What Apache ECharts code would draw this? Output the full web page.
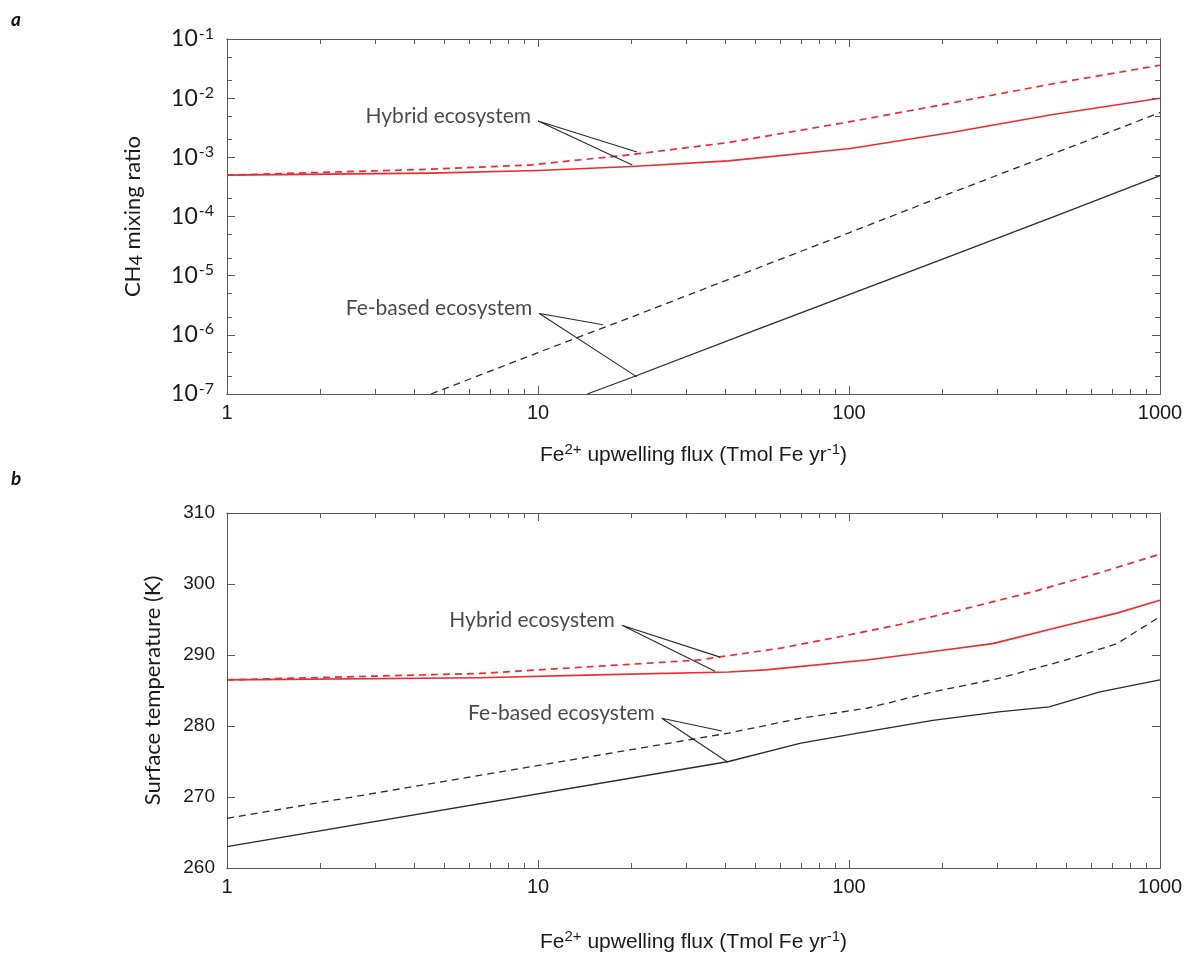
<!DOCTYPE html>
<html>
<head>
<meta charset="utf-8">
<script src="https://cdn.jsdelivr.net/npm/echarts@6/dist/echarts.min.js"></script>
<style>
  html, body { margin: 0; padding: 0; background: #ffffff; }
  #chart { width: 1195px; height: 960px; }
</style>
</head>
<body>
<div id="chart"></div>
<script>
// ---------- Panel a: CH4 mixing ratio vs. Fe2+ upwelling flux ----------
const hybridSolidFluxA = [1, 4.5, 10, 20, 41, 101, 211, 443, 1000];
const hybridSolidCH4   = [5.0e-4, 5.4e-4, 6.0e-4, 7.0e-4, 8.7e-4, 1.41e-3, 2.6e-3, 5.2e-3, 1.0e-2];
const hybridDashFluxA  = [1, 4.5, 9.4, 19.6, 41, 101, 211, 443, 1000];
const hybridDashCH4    = [5.0e-4, 6.3e-4, 7.4e-4, 1.1e-3, 1.78e-3, 4.0e-3, 8.2e-3, 1.72e-2, 3.6e-2];
const feDashFluxA      = [4.53, 10, 20, 50, 100, 200, 500, 1000];
const feDashCH4        = [1.0e-7, 5.0e-7, 2.0e-6, 1.3e-5, 5.3e-5, 2.2e-4, 1.4e-3, 5.7e-3];
const feSolidFluxA     = [14.4, 20, 50, 100, 200, 500, 1000];
const feSolidCH4       = [1.0e-7, 1.9e-7, 1.2e-6, 4.8e-6, 1.9e-5, 1.2e-4, 4.9e-4];

// ---------- Panel b: surface temperature vs. Fe2+ upwelling flux ----------
const hybridSolidFluxB = [1, 6.5, 15.4, 41, 54, 114, 186, 290, 500, 727, 1000];
const hybridSolidTemp  = [286.5, 286.8, 287.2, 287.6, 287.9, 289.3, 290.5, 291.6, 294.2, 295.9, 297.7];
const hybridDashFluxB  = [1, 6.5, 15.4, 33, 61, 94, 146, 251, 390, 641, 1000];
const hybridDashTemp   = [286.5, 287.4, 288.4, 289.3, 291.0, 292.6, 294.3, 296.8, 298.9, 301.6, 304.2];
const feDashFluxB      = [1, 41, 70, 114, 186, 303, 500, 727, 1000];
const feDashTemp       = [267.0, 279.0, 281.1, 282.5, 284.8, 286.7, 289.3, 291.6, 295.4];
const feSolidFluxB     = [1, 41, 70, 114, 186, 303, 440, 641, 1000];
const feSolidTemp      = [263.0, 275.0, 277.6, 279.2, 280.8, 282.0, 282.7, 284.8, 286.5];

// ---------- Ticks ----------
const fluxMajor = [1, 10, 100, 1000];
const fluxMinor = [2, 3, 4, 5, 6, 7, 8, 9, 20, 30, 40, 50, 60, 70, 80, 90, 200, 300, 400, 500, 600, 700, 800, 900];
const ch4Major  = [1e-7, 1e-6, 1e-5, 1e-4, 1e-3, 1e-2, 1e-1];
const ch4Minor  = [2e-7, 5e-7, 2e-6, 5e-6, 2e-5, 5e-5, 2e-4, 5e-4, 2e-3, 5e-3, 2e-2, 5e-2];
const tempMajor = [260, 270, 280, 290, 300, 310];

// ---------- Annotation callouts: label anchor and pointer ends ----------
const calloutText = ['Hybrid ecosystem', 'Fe-based ecosystem'];
const calloutA = [
  { anchor: [10.0, 4.1e-3], ends: [[20.8, 1.23e-3], [20.1, 7.4e-4]] },
  { anchor: [10.1, 2.3e-6], ends: [[16.2, 1.48e-6], [20.8, 1.95e-7]] }
];
const calloutB = [
  { anchor: [18.6, 294.2], ends: [[38.5, 289.7], [37.1, 287.7]] },
  { anchor: [25.0, 281.1], ends: [[39.0, 279.3], [40.8, 274.9]] }
];

const RED = '#ee2a33';
const BLACK = '#2b2b2b';
const AXIS = '#5a5a5a';
const TEXT = '#1a1a1a';
const SANS = 'Lato, "Open Sans", sans-serif';
const ARIAL = '"Liberation Sans", Arial, sans-serif';

const zip = (xs, ys) => xs.map((x, i) => [x, ys[i]]);

const fluxName = '{t|Fe}{s|2+}{t| upwelling flux (Tmol Fe yr}{s|-1}{t|)}';
const fluxNameStyle = {
  rich: {
    t: { fontSize: 21, fontFamily: ARIAL, color: TEXT },
    s: { fontSize: 15, fontFamily: ARIAL, color: TEXT, padding: [0, 0, 11, 0] }
  }
};
const fluxLabel = { show: true, customValues: fluxMajor, margin: 9, fontSize: 20, fontFamily: ARIAL, color: TEXT,
  formatter: v => String(Math.round(v)) };

function xAxisDef(grid, position, ticks, len, extra) {
  return Object.assign({
    type: 'log', logBase: 10, gridIndex: grid, position: position,
    min: 1, max: 1000,
    axisLine: { show: true, lineStyle: { color: AXIS, width: 1 } },
    axisTick: { show: true, inside: true, length: len, customValues: ticks, lineStyle: { color: AXIS, width: 1 } },
    axisLabel: { show: false },
    splitLine: { show: false }
  }, extra || {});
}

function yAxisDef(grid, position, type, min, max, ticks, len, extra) {
  return Object.assign({
    type: type, gridIndex: grid, position: position,
    min: min, max: max,
    axisLine: { show: true, lineStyle: { color: AXIS, width: 1 } },
    axisTick: { show: true, inside: true, length: len, customValues: ticks, lineStyle: { color: AXIS, width: 1 } },
    axisLabel: { show: false },
    splitLine: { show: false }
  }, type === 'log' ? { logBase: 10 } : {}, extra || {});
}

const xAxes = [
  // panel a
  xAxisDef(0, 'bottom', fluxMajor, 8, {
    axisLabel: fluxLabel,
    name: fluxName, nameLocation: 'middle', nameGap: 48, nameTextStyle: fluxNameStyle
  }),
  xAxisDef(0, 'bottom', fluxMinor, 5),
  xAxisDef(0, 'top', fluxMajor, 8),
  xAxisDef(0, 'top', fluxMinor, 5),
  // panel b
  xAxisDef(1, 'bottom', fluxMajor, 8, {
    axisLabel: fluxLabel,
    name: fluxName, nameLocation: 'middle', nameGap: 61, nameTextStyle: fluxNameStyle
  }),
  xAxisDef(1, 'bottom', fluxMinor, 5),
  xAxisDef(1, 'top', fluxMajor, 8),
  xAxisDef(1, 'top', fluxMinor, 5)
];

const yAxes = [
  // panel a
  yAxisDef(0, 'left', 'log', 1e-7, 1e-1, ch4Major, 8, {
    axisLabel: {
      show: true, customValues: ch4Major, margin: 13,
      formatter: v => '{b|10}{s|' + Math.round(Math.log10(v)) + '}',
      rich: {
        b: { fontSize: 23, fontFamily: SANS, color: TEXT },
        s: { fontSize: 16, fontFamily: SANS, color: TEXT, padding: [0, 0, 11, 1] }
      }
    },
    name: '{t|CH}{d|4}{t| mixing ratio}', nameLocation: 'middle', nameGap: 82,
    nameTextStyle: {
      rich: {
        t: { fontSize: 22, fontFamily: SANS, color: TEXT },
        d: { fontSize: 18, fontFamily: SANS, color: TEXT, padding: [6, 0, 0, 0] }
      }
    }
  }),
  yAxisDef(0, 'left', 'log', 1e-7, 1e-1, ch4Minor, 5),
  yAxisDef(0, 'right', 'log', 1e-7, 1e-1, ch4Major, 8),
  yAxisDef(0, 'right', 'log', 1e-7, 1e-1, ch4Minor, 5),
  // panel b
  yAxisDef(1, 'left', 'value', 260, 310, tempMajor, 8, {
    axisLabel: { show: true, customValues: tempMajor, margin: 12, fontSize: 19, fontFamily: ARIAL, color: TEXT },
    name: 'Surface temperature (K)', nameLocation: 'middle', nameGap: 63,
    nameTextStyle: { fontSize: 22, fontFamily: SANS, color: TEXT }
  }),
  yAxisDef(1, 'right', 'value', 260, 310, tempMajor, 8)
];

function curve(xi, yi, data, color, dashed, width) {
  return {
    type: 'line', xAxisIndex: xi, yAxisIndex: yi, data: data,
    showSymbol: false, symbol: 'none', smooth: false,
    clip: true, silent: true, z: 3,
    lineStyle: { color: color, width: width, type: dashed ? [7, 5] : 'solid', join: 'round' }
  };
}

function callouts(xi, yi, list) {
  const out = [];
  list.forEach((c, k) => {
    out.push({
      type: 'line', xAxisIndex: xi, yAxisIndex: yi, silent: true, z: 4,
      data: [c.ends[0], c.anchor, c.ends[1]], symbol: 'none', clip: false,
      lineStyle: { color: '#2a2a2a', width: 1.1 }
    });
    out.push({
      type: 'scatter', xAxisIndex: xi, yAxisIndex: yi, silent: true, z: 4,
      data: [c.anchor], symbolSize: 0,
      label: {
        show: true, position: 'left', distance: 7, offset: [0, -5],
        formatter: calloutText[k], fontSize: 21, fontFamily: SANS, color: TEXT
      }
    });
  });
  return out;
}

const series = [
  curve(0, 0, zip(hybridDashFluxA, hybridDashCH4), RED, true, 1.7),
  curve(0, 0, zip(hybridSolidFluxA, hybridSolidCH4), RED, false, 1.6),
  curve(0, 0, zip(feDashFluxA, feDashCH4), BLACK, true, 1.3),
  curve(0, 0, zip(feSolidFluxA, feSolidCH4), BLACK, false, 1.3),
  curve(4, 4, zip(hybridDashFluxB, hybridDashTemp), RED, true, 1.7),
  curve(4, 4, zip(hybridSolidFluxB, hybridSolidTemp), RED, false, 1.6),
  curve(4, 4, zip(feDashFluxB, feDashTemp), BLACK, true, 1.3),
  curve(4, 4, zip(feSolidFluxB, feSolidTemp), BLACK, false, 1.3)
].concat(callouts(0, 0, calloutA), callouts(4, 4, calloutB));

const chart = echarts.init(document.getElementById('chart'), null, { renderer: 'canvas', width: 1195, height: 960 });
chart.setOption({
  backgroundColor: '#ffffff',
  animation: false,
  grid: [
    { left: 227, top: 39, width: 933, height: 355 },
    { left: 227, top: 513, width: 933, height: 355 }
  ],
  xAxis: xAxes,
  yAxis: yAxes,
  graphic: [
    { type: 'text', left: 11, top: 10, style: { text: 'a', font: 'italic bold 19px ' + SANS, fill: '#111' } },
    { type: 'text', left: 11, top: 469, style: { text: 'b', font: 'italic bold 19px ' + SANS, fill: '#111' } }
  ],
  series: series
});
</script>
</body>
</html>
